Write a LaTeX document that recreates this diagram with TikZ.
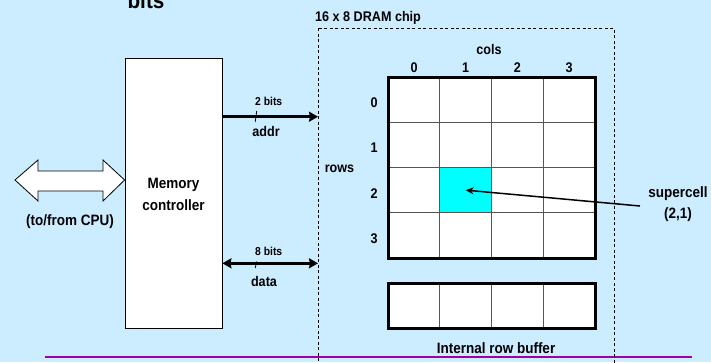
\documentclass[tikz,border=0pt]{standalone}
\usepackage{fontspec}
\setmainfont{Liberation Sans}[FakeStretch=0.9]
\usetikzlibrary{arrows.meta}
\definecolor{bgblue}{RGB}{204,236,255}
\definecolor{cellcyan}{RGB}{0,255,255}
\definecolor{rulepurple}{RGB}{160,0,170}
\definecolor{gridgray}{RGB}{85,85,85}
\tikzset{
  lbl/.style={font=\fontsize{15}{17}\selectfont\bfseries, anchor=base, inner sep=0pt},
  lblm/.style={font=\fontsize{14}{16}\selectfont\bfseries, anchor=base, inner sep=0pt},
  lbls/.style={font=\fontsize{11.5}{13}\selectfont\bfseries, anchor=base, inner sep=0pt},
  busline/.style={line width=3pt, -{Stealth[length=9pt,width=10pt,inset=1pt]}},
  busboth/.style={line width=3pt, {Stealth[length=9pt,width=10pt,inset=1pt]}-{Stealth[length=9pt,width=10pt,inset=1pt]}},
  tick/.style={line width=0.8pt},
  cell/.style={draw=gridgray, line width=0.9pt, fill=white},
}
\begin{document}
\begin{tikzpicture}[x=1pt,y=-1pt]
  \useasboundingbox (0,0) rectangle (711,362);
  \fill[bgblue] (0,0) rectangle (711,362);
  \clip (0,0) rectangle (711,362);

  % title fragment at the top
  \node[font=\fontsize{23}{25}\selectfont\bfseries, anchor=base, inner sep=0pt] (title) at (146,8) {bits};

  % bottom rule
  \coordinate (ruleL) at (45,357.3);
  \coordinate (ruleR) at (692,357.3);
  \draw[rulepurple, line width=2pt] (ruleL) -- (ruleR);

  % memory controller
  \node[draw, fill=white, line width=0.8pt, minimum width=97pt, minimum height=270pt, inner sep=0pt] (mc) at (173.5,193) {};
  \node[lbl] (mct1) at (173.5,188) {Memory};
  \node[lbl] (mct2) at (173.5,210) {controller};

  % hollow double arrow to the CPU
  \draw[fill=white, line width=0.8pt] (15,180) -- (38,160) -- (38,171) -- (103,171) -- (103,160)
     -- (mc.west |- 0,180) -- (103,201) -- (103,191) -- (38,191) -- (38,201) -- cycle;
  \node[lbl] (cpu) at (70,225.5) {(to/from CPU)};

  % DRAM chip outline
  \coordinate (chipNW) at (318,28);
  \coordinate (chipSE) at (614,380);
  \draw[dashed, dash pattern=on 3pt off 2.5pt, line width=0.8pt] (chipNW) rectangle (chipSE);
  \node[lblm, anchor=base west] (chiplbl) at (315,21) {16 x 8 DRAM chip};

  % address bus
  \coordinate (addrIn) at (318,116.7);
  \draw[busline] (mc.east |- addrIn) -- (addrIn);
  \draw[tick] (256.7,111) -- (255.2,122);
  \node[lbls] (addrw) at (268.7,105.7) {2 bits};
  \node[lblm] (addrl) at (266,136) {addr};

  % data bus
  \coordinate (dataIn) at (318,263.3);
  \draw[busboth] (mc.east |- dataIn) -- (dataIn);
  \draw[tick] (256.7,261.5) -- (255.2,268);
  \node[lbls] (dataw) at (268.7,255.7) {8 bits};
  \node[lblm] (datal) at (264,286.7) {data};

  % supercell array
  \foreach \r in {0,...,3} {
    \foreach \c in {0,...,3} {
      \pgfmathsetmacro{\xa}{388+51.75*\c}
      \pgfmathsetmacro{\ya}{77+45.25*\r}
      \draw[cell] (\xa,\ya) rectangle ++(51.75,45.25);
      \coordinate (c\r\c) at (\xa+25.875,\ya+22.625);
    }
  }
  \fill[cellcyan] (439.75,167.5) rectangle ++(51.75,45.25);
  \draw[gridgray, line width=0.9pt] (439.75,167.5) rectangle ++(51.75,45.25);
  \draw[line width=3pt] (388,77) rectangle (595,258);

  \foreach \c/\x in {0/414,1/465.6,2/517.4,3/569} {
    \node[lblm] (col\c) at (\x,72) {\c};
  }
  \foreach \r/\y in {0/107,1/152.5,2/198,3/243} {
    \node[lblm] (row\r) at (374,\y) {\r};
  }
  \node[lblm] (colsl) at (489,54) {cols};
  \node[lblm] (rowsl) at (339.5,172.7) {rows};

  % internal row buffer
  \foreach \c in {0,...,3} {
    \pgfmathsetmacro{\xa}{388+51.75*\c}
    \draw[cell] (\xa,283) rectangle ++(51.75,45);
  }
  \draw[line width=3pt] (388,283) rectangle (595,328);
  \node[lbl] (rbl) at (496,353.5) {Internal row buffer};

  % supercell callout
  \node[lbl] (sc1) at (678,197) {supercell};
  \node[lbl] (sc2) at (678,218) {(2,1)};
  \coordinate (scTail) at (640,206);
  \draw[line width=1.5pt, -{Stealth[length=8pt,width=7pt]}] (scTail) -- (c21);
\end{tikzpicture}
\end{document}
